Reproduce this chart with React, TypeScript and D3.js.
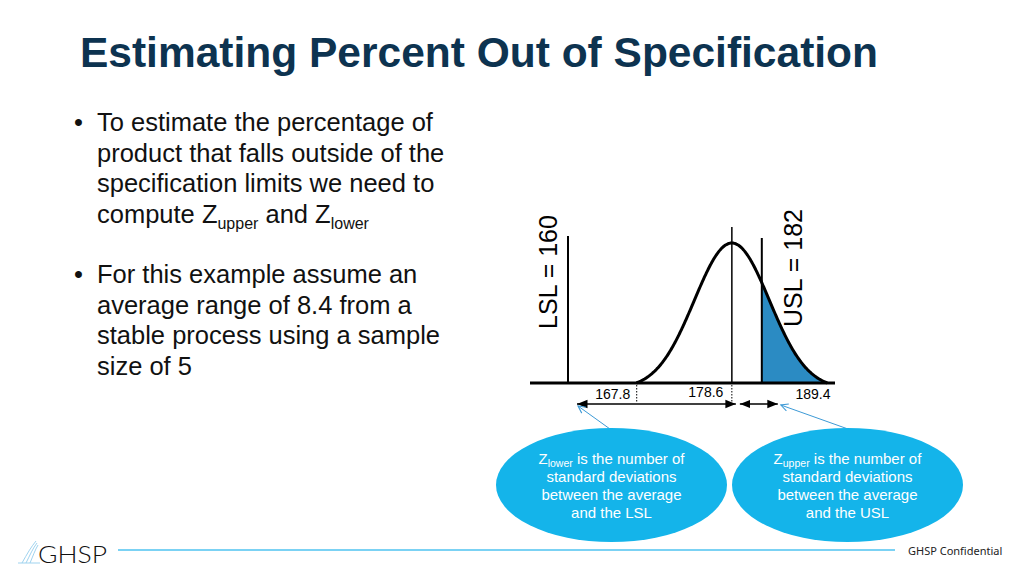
import React from "react";
import * as d3 from "d3";

// ---- data ----
const LSL = 160;
const USL = 182;
const MEAN = 178.6;
const AVG_RANGE = 8.4;
const D2 = 2.326; // sample size 5
const SIGMA = AVG_RANGE / D2;
const tickValues = [167.8, 178.6, 189.4];
const tickLabels = ["167.8", "178.6", "189.4"];

const titleText = "Estimating Percent Out of Specification";
const bullet1 = ["To estimate the percentage of", "product that falls outside of the", "specification limits we need to"];
const bullet2 = ["For this example assume an", "average range of 8.4 from a", "stable process using a sample", "size of 5"];
const leftBubble = ["standard deviations", "between the average", "and the LSL"];
const rightBubble = ["standard deviations", "between the average", "and the USL"];

const FONT = "'Liberation Sans', Arial, Helvetica, sans-serif";

export default function App() {
  const x = d3.scaleLinear().domain([LSL, 189.4]).range([568, 827]);
  // schematic bell: drawn between mean ± 3 sigma, touching the baseline at both ends
  const k = 1.18;
  const edge = Math.exp(-9 / (2 * k * k));
  const pdf = (v: number) => {
    const z = (v - MEAN) / SIGMA;
    return Math.max(0, (Math.exp(-(z * z) / (2 * k * k)) - edge) / (1 - edge));
  };
  const y = d3.scaleLinear().domain([0, 1]).range([383, 243]);
  const baseY = y(0);

  const curvePts = d3.range(-3, 3.0001, 0.02).map((z) => MEAN + z * SIGMA);
  const line = d3.line<number>().x((v) => x(v)).y((v) => y(pdf(v))).curve(d3.curveBasis);
  const area = d3.area<number>().x((v) => x(v)).y0(baseY).y1((v) => y(pdf(v)));
  const shadeData = [USL, ...curvePts.filter((v) => v >= USL)];

  const xL = x(LSL), xU = x(USL), xM = x(MEAN);
  const arrowY = 404;
  const bulletSize = 25.5;
  const lh = 30.7;

  return (
    <svg width={1024} height={576} style={{ position: "absolute", left: 0, top: 0, background: "#fff" }} fontFamily={FONT}>
      <defs>
        <marker id="ah" viewBox="0 0 10 10" refX="10" refY="5" markerWidth="7" markerHeight="7" orient="auto-start-reverse">
          <path d="M0,1 L10,5 L0,9 Z" fill="#000" />
        </marker>
        <marker id="ahb" viewBox="0 0 10 10" refX="9" refY="5" markerWidth="9" markerHeight="9" orient="auto" markerUnits="userSpaceOnUse">
          <path d="M1,1 L9,5 L1,9" fill="none" stroke="#3d9ad6" strokeWidth="1.2" />
        </marker>
      </defs>

      {/* title */}
      <text x={80} y={67} fontSize={42} fontWeight="bold" fill="#0d3350" textLength={798} lengthAdjust="spacingAndGlyphs">{titleText}</text>

      {/* bullets */}
      <g fontSize={bulletSize} fill="#111">
        <text x={74} y={131}>•</text>
        {bullet1.map((t, i) => (
          <text key={i} x={97} y={131 + i * lh}>{t}</text>
        ))}
        <text x={97} y={131 + 3 * lh}>
          compute Z<tspan fontSize={16} dy={6}>upper</tspan><tspan dy={-6}> and Z</tspan><tspan fontSize={16} dy={6}>lower</tspan>
        </text>
        <text x={74} y={283}>•</text>
        {bullet2.map((t, i) => (
          <text key={i} x={97} y={283 + i * lh}>{t}</text>
        ))}
      </g>

      {/* chart */}
      <path d={area(shadeData) || ""} fill="#2b8bc3" />
      <line x1={530} x2={835} y1={baseY} y2={baseY} stroke="#000" strokeWidth={3} />
      <line x1={xL} x2={xL} y1={236} y2={baseY} stroke="#000" strokeWidth={2} />
      <line x1={xU} x2={xU} y1={238} y2={baseY} stroke="#000" strokeWidth={2} />
      <line x1={xM} x2={xM} y1={227} y2={baseY} stroke="#000" strokeWidth={1.5} />
      <path d={line(curvePts) || ""} fill="none" stroke="#000" strokeWidth={3} />

      <text transform={`translate(${xL - 11},272) rotate(-90)`} textAnchor="middle" fontSize={25} fill="#000">LSL = 160</text>
      <text transform={`translate(${xU + 40},268) rotate(-90)`} textAnchor="middle" fontSize={25} fill="#000">USL = 182</text>

      {/* dotted ticks */}
      {tickValues.slice(0, 2).map((v, i) => (
        <line key={i} x1={x(v)} x2={x(v)} y1={baseY + 2} y2={403} stroke="#000" strokeWidth={1} strokeDasharray="1.5,1.5" />
      ))}
      <text x={x(tickValues[0]) - 24} y={399} textAnchor="middle" fontSize={14}>{tickLabels[0]}</text>
      <text x={x(tickValues[1]) - 26} y={397} textAnchor="middle" fontSize={14}>{tickLabels[1]}</text>
      <text x={x(tickValues[2]) - 14} y={399} textAnchor="middle" fontSize={14}>{tickLabels[2]}</text>

      {/* double arrows */}
      <line x1={xL + 9} x2={xM + 4} y1={arrowY} y2={arrowY} stroke="#000" strokeWidth={1.5} markerStart="url(#ah)" markerEnd="url(#ah)" />
      <line x1={xM + 8} x2={xU + 16} y1={arrowY} y2={arrowY} stroke="#000" strokeWidth={1.5} markerStart="url(#ah)" markerEnd="url(#ah)" />

      {/* callouts */}
      <line x1={610} y1={429} x2={xL + 10} y2={406} stroke="#3d9ad6" strokeWidth={1} markerEnd="url(#ahb)" />
      <line x1={848} y1={429} x2={xU + 19} y2={405} stroke="#3d9ad6" strokeWidth={1} markerEnd="url(#ahb)" />

      <ellipse cx={611.5} cy={485} rx={115.5} ry={57} fill="#14b4ea" />
      <ellipse cx={847.5} cy={485} rx={115.5} ry={57} fill="#14b4ea" />
      <g fontSize={15} fill="#fff" textAnchor="middle">
        <text x={611.5} y={464}>Z<tspan fontSize={10.5} dy={3}>lower</tspan><tspan dy={-3}> is the number of</tspan></text>
        {leftBubble.map((t, i) => (<text key={i} x={611.5} y={482 + i * 18}>{t}</text>))}
        <text x={847.5} y={464}>Z<tspan fontSize={10.5} dy={3}>upper</tspan><tspan dy={-3}> is the number of</tspan></text>
        {rightBubble.map((t, i) => (<text key={i} x={847.5} y={482 + i * 18}>{t}</text>))}
      </g>

      {/* footer */}
      <line x1={118} x2={895} y1={550} y2={550} stroke="#4fc3f0" strokeWidth={1.5} />
      <text x={908} y={555} fontSize={11} fill="#222" fontFamily="'Noto Sans', sans-serif">GHSP Confidential</text>
      <g stroke="#9fd3ef" strokeWidth={1} fill="none">
        <path d="M22,563 C27,554 31,547 36,541" />
        <path d="M26,563 C30,555 33,548 37,543" />
        <path d="M30,563 C33,556 35,550 38,545" />
        <path d="M18,563 L40,563" />
      </g>
      <text x={38} y={563} fontSize={23} fontFamily="Lato, sans-serif" fontWeight={300} fill="#111" textLength={69} lengthAdjust="spacingAndGlyphs">GHSP</text>
    </svg>
  );
}
